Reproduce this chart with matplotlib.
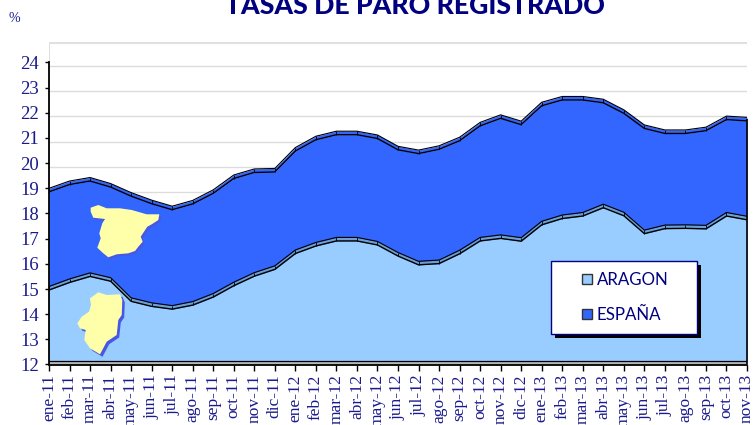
import numpy as np
import matplotlib
matplotlib.use("Agg")
import matplotlib.pyplot as plt
from matplotlib.patches import Polygon, Rectangle

meses = ["ene-11", "feb-11", "mar-11", "abr-11", "may-11", "jun-11", "jul-11", "ago-11", "sep-11",
         "oct-11", "nov-11", "dic-11", "ene-12", "feb-12", "mar-12", "abr-12", "may-12", "jun-12",
         "jul-12", "ago-12", "sep-12", "oct-12", "nov-12", "dic-12", "ene-13", "feb-13", "mar-13",
         "abr-13", "may-13", "jun-13", "jul-13", "ago-13", "sep-13", "oct-13", "nov-13"]
espana = [18.93, 19.22, 19.36, 19.12, 18.76, 18.46, 18.22, 18.45, 18.87,
          19.46, 19.7, 19.72, 20.55, 21.0, 21.2, 21.2, 21.05, 20.6,
          20.45, 20.62, 20.96, 21.55, 21.85, 21.6, 22.35, 22.58, 22.58,
          22.47, 22.05, 21.45, 21.25, 21.25, 21.36, 21.8, 21.75]
aragon = [15.03, 15.33, 15.57, 15.38, 14.58, 14.38, 14.27, 14.43, 14.75,
          15.2, 15.58, 15.85, 16.48, 16.78, 16.98, 16.98, 16.82, 16.38,
          16.03, 16.08, 16.47, 16.98, 17.08, 16.97, 17.62, 17.87, 17.97,
          18.3, 17.98, 17.27, 17.47, 17.48, 17.46, 17.97, 17.82]
y_ticks = list(range(12, 25))

# contorno de los mapas en pixeles de la imagen
mapa_espana = [(90.7, 207.7), (98.3, 205), (106.7, 208.3), (120, 208.3), (131.7, 210), (146.7, 214.3),
               (159.3, 214.3), (158.3, 220), (151.7, 224.3), (147.3, 226.7), (144, 231.7), (140.7, 236.7),
               (142.7, 241.7), (138.3, 246.7), (135, 251), (128.3, 253.3), (116.7, 254.3), (108.3, 257.3),
               (103.3, 253.3), (97.3, 247.7), (100.7, 238.3), (99.3, 233.3), (102.3, 223.3), (105, 219),
               (93.3, 217.7), (90.7, 211.7)]
mapa_aragon = [(90, 298.3), (91, 305), (89, 311.7), (81.7, 316.7), (77.3, 323.3), (80, 328.3), (85.7, 330),
               (84.3, 340), (90, 348.3), (100, 354.3), (106.7, 341.7), (116.7, 335), (118.3, 320),
               (121.7, 315), (122.3, 300), (120, 294.3), (106.7, 295), (98.3, 292.3)]

AZUL_TXT = "#1a1a8c"
AZUL = "#3366ff"
CELESTE = "#99ccff"
GROSOR = 0.07  # media altura de la banda 3D, en unidades de %
SUELO = 12.15

x = np.arange(len(meses))
esp = np.array(espana)
ara = np.array(aragon)

W, H = 753, 425
fig = plt.figure(figsize=(W / 100, H / 100), dpi=100)
x0, x1 = 49, 747
y24, y12 = 62.5, 364.5
unidad = (y12 - y24) / 12
y_top = 42
ymax = 24 + (y24 - y_top) / unidad
ax = fig.add_axes([x0 / W, 1 - y12 / H, (x1 - x0) / W, (y12 - y_top) / H])
ax.set_xlim(0, len(meses) - 1)
ax.set_ylim(12, ymax)

# pared del fondo
for v in y_ticks[1:]:
    ax.hlines(v - 0.14, 0, len(meses) - 1, color="#dcdcdc", lw=1, zorder=1)
ax.hlines(ymax - 0.02, 0, len(meses) - 1, color="#e0e0e0", lw=1.5, zorder=1)
ax.vlines(0, 24, ymax, color="#e0e0e0", lw=1.5, zorder=1)

# areas con la banda superior
for serie, color, banda, z in [(esp, AZUL, AZUL, 2), (ara, CELESTE, "#6f9fcf", 3)]:
    ax.fill_between(x, SUELO, serie - GROSOR, color=color, lw=0, zorder=z)
    ax.fill_between(x, serie - GROSOR, serie + GROSOR, color=banda, lw=0, zorder=z)
    ax.plot(x, serie - GROSOR, color="black", lw=1.0, zorder=z)
    ax.plot(x, serie + GROSOR, color="black", lw=0.8, zorder=z)
    ax.vlines(x, serie - GROSOR, serie + GROSOR, color="black", lw=0.6, zorder=z)

# suelo y borde derecho
ax.fill_between(x, 12, SUELO, color="#b8b8b8", lw=0, zorder=4)
ax.hlines(SUELO, 0, len(meses) - 1, color="black", lw=0.9, zorder=5)
ax.vlines(len(meses) - 1, 12, esp[-1], color="black", lw=1.2, zorder=5, clip_on=False)

for s in ["top", "right"]:
    ax.spines[s].set_visible(False)
ax.spines["left"].set_bounds(12, 24)
ax.spines["left"].set_linewidth(1.3)
ax.spines["bottom"].set_linewidth(1.3)
ax.spines["left"].set_zorder(6)
ax.spines["bottom"].set_zorder(6)
ax.set_yticks(y_ticks)
ax.set_yticklabels([str(v) for v in y_ticks], family="Liberation Serif", fontsize=13.5, color=AZUL_TXT)
ax.set_xticks(x)
ax.set_xticklabels(meses, rotation=90, family="Liberation Serif", fontsize=12.5, color=AZUL_TXT)
ax.tick_params(axis="y", length=3, width=1, pad=4)
ax.tick_params(axis="x", length=4, width=1, pad=3)

# capa en pixeles para mapas, leyenda y titulos
capa = fig.add_axes([0, 0, 1, 1], facecolor="none")
capa.set_xlim(0, W)
capa.set_ylim(H, 0)
capa.axis("off")

for contorno, sombra in [(mapa_espana, (2, 2)), (mapa_aragon, (2.5, 2.5))]:
    p = np.array(contorno)
    capa.add_patch(Polygon(p + np.array(sombra), closed=True, fc="#4858e0", ec="none"))
    capa.add_patch(Polygon(p, closed=True, fc="#ffffaa", ec="none"))

capa.add_patch(Rectangle((555, 265), 146, 73, fc="black", ec="none"))
capa.add_patch(Rectangle((551, 261), 146, 73, fc="white", ec="#000080", lw=1))
for yy, nombre, color in [(279, "ARAGON", CELESTE), (314, "ESPAÑA", AZUL)]:
    capa.add_patch(Rectangle((582, yy - 5), 10, 10, fc=color, ec="#333333", lw=1))
    capa.text(597, yy + 1, nombre, family="Lato", fontsize=12.2, color="#000080", va="center", ha="left")

capa.text(415, 14, "TASAS DE PARO REGISTRADO", family="Lato", fontweight="black", fontsize=19.2,
          color="#000080", ha="center", va="baseline", clip_on=False)
capa.text(14, 18, "%", family="Liberation Serif", fontsize=10, color=AZUL_TXT, ha="center", va="center")

fig.savefig("out.png", dpi=100)
